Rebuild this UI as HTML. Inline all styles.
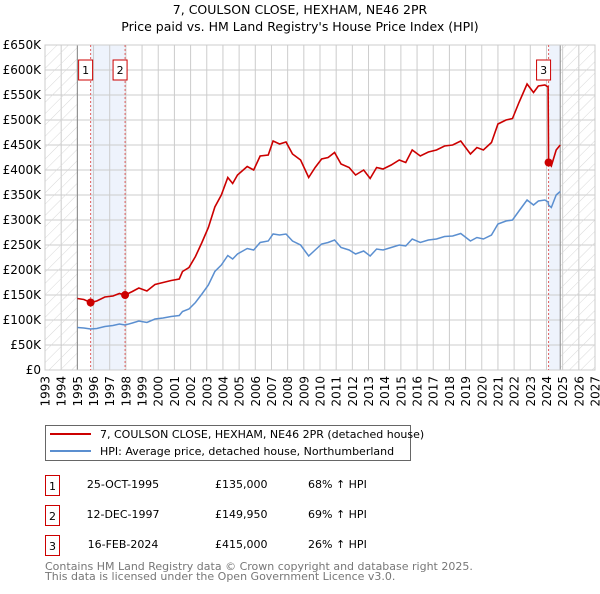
<!DOCTYPE html>
<html><head><meta charset="utf-8"><style>
body{margin:0;background:#fff;font-family:"DejaVu Sans","Liberation Sans",sans-serif;}
svg text{font-family:"DejaVu Sans","Liberation Sans",sans-serif;}
</style></head><body>
<svg id="c" width="600" height="590" xmlns="http://www.w3.org/2000/svg">
<defs><pattern id="h" width="8" height="8" patternUnits="userSpaceOnUse" patternTransform="rotate(45)"><line x1="0" y1="0" x2="0" y2="8" stroke="#d8d8d8" stroke-width="1"/></pattern></defs>
<text x="300" y="14" text-anchor="middle" font-size="12.5">7, COULSON CLOSE, HEXHAM, NE46 2PR</text>
<text x="300" y="31" text-anchor="middle" font-size="12.5">Price paid vs. HM Land Registry's House Price Index (HPI)</text>
<g id="plot"></g>
<g>
<rect x="45.5" y="425.5" width="365" height="35" fill="#fff" stroke="#666"/>
<line x1="50" y1="434" x2="91" y2="434" stroke="#cc0000" stroke-width="2"/>
<text x="100" y="438" font-size="11">7, COULSON CLOSE, HEXHAM, NE46 2PR (detached house)</text>
<line x1="50" y1="451" x2="91" y2="451" stroke="#5b8fd0" stroke-width="2"/>
<text x="100" y="455" font-size="11">HPI: Average price, detached house, Northumberland</text>
</g>
<g id="tbl" font-size="11"></g>
<text x="45" y="570" font-size="11" fill="#777">Contains HM Land Registry data © Crown copyright and database right 2025.</text>
<text x="45" y="580" font-size="11" fill="#777">This data is licensed under the Open Government Licence v3.0.</text>
</svg>
<script>
const years=[1995.0,1995.4,1995.82,1996.2,1996.7,1997.2,1997.6,1997.95,1998.4,1998.8,1999.3,1999.8,2000.3,2000.8,2001.3,2001.5,2001.9,2002.3,2002.7,2003.1,2003.5,2003.9,2004.3,2004.6,2004.9,2005.5,2005.9,2006.3,2006.8,2007.1,2007.5,2007.9,2008.3,2008.8,2009.3,2009.7,2010.1,2010.5,2010.9,2011.3,2011.8,2012.2,2012.7,2013.1,2013.5,2013.9,2014.4,2014.9,2015.3,2015.7,2016.2,2016.7,2017.2,2017.7,2018.2,2018.7,2019.3,2019.7,2020.1,2020.6,2021.0,2021.5,2021.9,2022.3,2022.8,2023.2,2023.5,2023.9,2024.1,2024.13,2024.3,2024.6,2024.85];
const hpi=[85,84,82,83,87,89,92,90,94,98,95,102,104,107,109,117,122,135,152,170,197,210,229,222,232,243,240,255,258,272,270,272,258,250,228,240,252,255,260,245,240,232,238,228,242,240,245,250,248,262,255,260,262,267,268,273,258,265,262,270,292,298,300,318,340,330,338,340,336,330,325,350,357];
const price=[143,141,135,138,146,148,153,150,157,164,158,171,175,179,182,197,205,227,255,285,326,350,385,373,390,407,400,428,430,458,452,456,432,420,385,405,422,425,435,412,405,390,400,383,405,402,410,420,415,440,428,436,440,448,450,458,432,445,440,455,492,500,503,535,572,555,568,570,566,415,408,440,450];
const saleYears=[1995.82,1997.95,2024.13];
const saleValues=[135,149.95,415];
const saleLabels=["1","2","3"];
const saleDates=["25-OCT-1995","12-DEC-1997","16-FEB-2024"];
const salePrices=["£135,000","£149,950","£415,000"];
const salePct=["68% ↑ HPI","69% ↑ HPI","26% ↑ HPI"];
const yTicks=[0,50,100,150,200,250,300,350,400,450,500,550,600,650];
const xTicks=[];for(let y=1993;y<=2027;y++)xTicks.push(y);

const NS="http://www.w3.org/2000/svg";
const X0=45,X1=595,Y0=370,Y1=45;
const xs=y=>X0+(y-1993)/(2027-1993)*(X1-X0);
const ys=v=>Y0-v/650*(Y0-Y1);
const plot=document.getElementById('plot');
function mk(tag,at,parent){const e=document.createElementNS(NS,tag);for(const k in at)e.setAttribute(k,at[k]);(parent||plot).appendChild(e);return e;}
let e;
e=mk('rect',{x:X0,y:Y1,width:X1-X0,height:Y0-Y1,fill:'#fff'});


e=mk('rect',{x:xs(1995.82),y:Y1,width:xs(1997.95)-xs(1995.82),height:Y0-Y1,fill:'#eef3fc'});


e=mk('rect',{x:xs(2024.13),y:Y1,width:xs(2024.85)-xs(2024.13),height:Y0-Y1,fill:'#eef3fc'});


for(const t of yTicks){
 e=mk('line',{x1:X0,x2:X1,y1:ys(t),y2:ys(t),stroke:'#ccc'});
 
 
 e=mk('text',{x:X0-4,y:ys(t)+4,'text-anchor':'end','font-size':'12'});
 e.textContent=t===0?'£0':'£'+t+'K';
 
 
}
for(const t of xTicks){
 e=mk('line',{x1:xs(t),x2:xs(t),y1:Y1,y2:Y0,stroke:'#ccc'});
 
 
 e=mk('text',{x:0,y:0,'text-anchor':'end','font-size':'12',transform:`translate(${xs(t)+4.5},${Y0+6}) rotate(-90)`});
 e.textContent=t;
 
 
}
e=mk('rect',{x:X0,y:Y1,width:xs(1995)-X0,height:Y0-Y1,fill:'url(#h)'});


e=mk('rect',{x:xs(2024.85),y:Y1,width:X1-xs(2024.85),height:Y0-Y1,fill:'url(#h)'});


for(const x of [xs(1995),xs(2024.85)]){e=mk('line',{x1:x,x2:x,y1:Y1,y2:Y0,stroke:'#888'});
 
 }
e=mk('rect',{x:X0,y:Y1,width:X1-X0,height:Y0-Y1,fill:'none',stroke:'#ccc'});


saleYears.forEach((s,i)=>{
 e=mk('line',{x1:xs(s),x2:xs(s),y1:Y1,y2:Y0,stroke:'#e06060','stroke-dasharray':'2,2'});
 
 
});
e=mk('polyline',{points:years.map((y,i)=>xs(y)+','+ys(hpi[i])).join(' '),fill:'none',stroke:'#5b8fd0','stroke-width':'1.5'});


e=mk('polyline',{points:years.map((y,i)=>xs(y)+','+ys(price[i])).join(' '),fill:'none',stroke:'#cc0000','stroke-width':'1.6'});


saleYears.forEach((s,i)=>{
 e=mk('circle',{cx:xs(s),cy:ys(saleValues[i]),r:4,fill:'#cc0000'});
 
 
 const lx=xs(s)-12;
 e=mk('rect',{x:lx,y:Y1+15,width:14,height:20,fill:'#fff',stroke:'#cc0000'});
 
 
 e=mk('text',{x:lx+7,y:Y1+29,'text-anchor':'middle','font-size':'11'});
 e.textContent=saleLabels[i];
 
 
});
const tbl=document.getElementById('tbl');
saleLabels.forEach((l,i)=>{
 const y=476+i*30;
 e=mk('rect',{x:45.5,y:y-0.5,width:14,height:20,fill:'#fff',stroke:'#cc0000'},tbl);
 
 
 e=mk('text',{x:52.5,y:y+14,'text-anchor':'middle'},tbl);e.textContent=l;
 
 
 e=mk('text',{x:123,y:y+12,'text-anchor':'middle'},tbl);e.textContent=saleDates[i];
 
 
 e=mk('text',{x:215,y:y+12},tbl);e.textContent=salePrices[i];
 
 
 e=mk('text',{x:308,y:y+12},tbl);e.textContent=salePct[i];
 
 
});
</script>
</body></html>
